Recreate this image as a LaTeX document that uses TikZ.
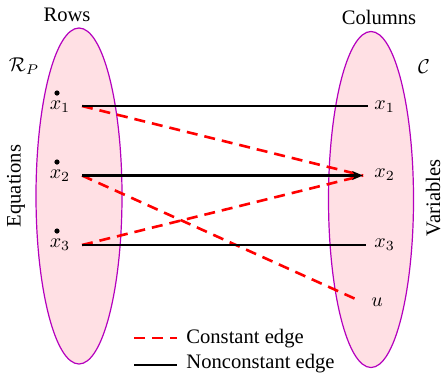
\documentclass[tikz,border=0pt]{standalone}
\usepackage{fontspec}
\setmainfont{Liberation Serif}
\usepackage{xcolor}
\usetikzlibrary{arrows.meta}

\definecolor{rim}{RGB}{180,0,190}
\definecolor{blush}{RGB}{255,224,228}

\begin{document}
\begin{tikzpicture}[
        x=0.5pt, y=-0.5pt,
        part/.style={draw=rim, fill=blush, line width=0.6pt},
        lab/.style={inner sep=0pt, font=\fontsize{10.3}{12}\selectfont},
        dot/.style={circle, fill=black, inner sep=0pt, minimum size=2.6pt},
        solid edge/.style={line width=1.3pt, black},
        const/.style={line width=1.3pt, red, dash pattern=on 5.5pt off 3.5pt},
        arr/.style={-{Stealth[length=5.5pt, width=4.5pt]}}
    ]
        \useasboundingbox (0,0) rectangle (443,377);
        % the two sides
        \draw[part] (79,196) ellipse [x radius=43, y radius=168];
        \draw[part] (371,199.5) ellipse [x radius=42.5, y radius=168];
        \node[lab] (rows) at (67,15) {Rows};
        \node[lab] (cols) at (379,17) {Columns};
        \node[lab] (rp)   at (24,66) {$\mathcal{R}_P$};
        \node[lab] (cset) at (424,67) {$\mathcal{C}$};
        \node[lab, rotate=90] (eqs)  at (16,186) {Equations};
        \node[lab, rotate=90] (vars) at (433,198) {Variables};
        % rows
        \node[lab] (r1) at (60,107) {$x_1$};
        \node[lab] (r2) at (60,176) {$x_2$};
        \node[lab] (r3) at (60,245) {$x_3$};
        \node[dot] (d1) at (57,93)  {};
        \node[dot] (d2) at (57,162) {};
        \node[dot] (d3) at (57,231) {};
        \coordinate (s1) at (82,106);
        \coordinate (s2) at (82,175.5);
        \coordinate (s3) at (82,245);
        % columns
        \coordinate (t1) at (368,106);
        \coordinate (t2) at (363,175.5);
        \coordinate (t3) at (366,245);
        \coordinate (tu) at (360,301);
        \node[lab, anchor=west] (c1) at (374,107) {$x_1$};
        \node[lab, anchor=west] (c2) at (374,175) {$x_2$};
        \node[lab, anchor=west] (c3) at (374,245) {$x_3$};
        \node[lab, anchor=west] (cu) at (371,302) {$u$};
        % edges
        \draw[const] (s1) -- (t2);
        \draw[const] (s3) -- (t2);
        \draw[const] (s2) -- (tu);
        \draw[solid edge] (s1) -- (t1);
        \draw[solid edge, arr] (s2) -- (t2);
        \draw[solid edge] (s3) -- (t3);
        % legend
        \coordinate (k1a) at (134,338);
        \coordinate (k1b) at (177,338);
        \coordinate (k2a) at (134,365);
        \coordinate (k2b) at (177,365);
        \draw[const] (k1a) -- (k1b);
        \draw[solid edge] (k2a) -- (k2b);
        \node[lab, anchor=west] (kc) at (186,339) {Constant edge};
        \node[lab, anchor=west] (kn) at (186,364) {Nonconstant edge};
    \end{tikzpicture}
\end{document}
